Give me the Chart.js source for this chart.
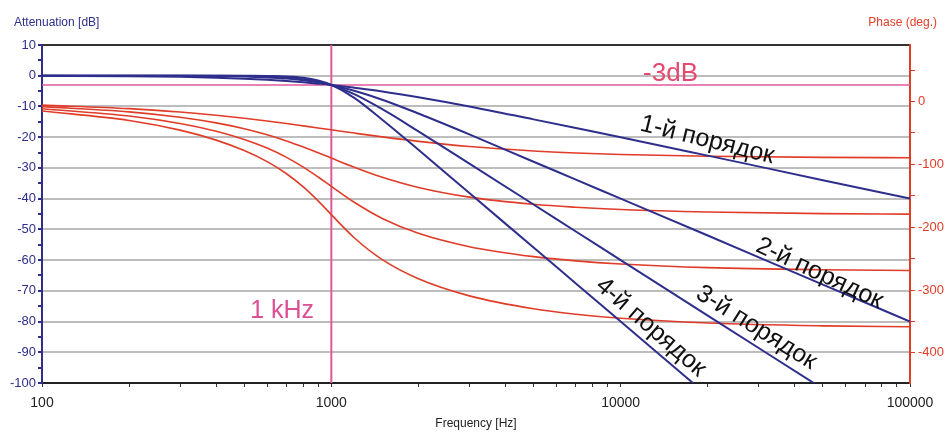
<!DOCTYPE html>
<html>
<head>
<meta charset="utf-8">
<script src="https://cdn.jsdelivr.net/npm/chart.js@4.4.1/dist/chart.umd.min.js"></script>
<style>
  body { margin: 0; background: #fff; }
  #wrap { position: relative; width: 945px; height: 434px; font-family: 'Liberation Sans', Arial, sans-serif; }
  .note { position: absolute; white-space: nowrap; transform-origin: 0 50%; line-height: 1; }
  .ttl { position: absolute; font-size: 12px; white-space: nowrap; }
</style>
</head>
<body>
<div id="wrap">
  <canvas id="grafik" width="945" height="434"></canvas>
  <div class="ttl" style="left:14px; top:15px; color:#2e2e8c;">Attenuation [dB]</div>
  <div class="ttl" style="right:8px; top:15px; color:#e03c28;">Phase (deg.)</div>
</div>
<script>
// frekuensi sampel (Hz)
const freqs = [100, 200, 300, 400, 500, 600, 700, 800, 900, 1000, 1200, 1500, 2000, 3000, 5000, 7000, 10000, 20000, 50000, 100000];

// redaman (dB), orde 1..4
const att1 = [-0.04, -0.17, -0.37, -0.64, -0.97, -1.34, -1.73, -2.15, -2.58, -3.0, -3.9, -5.1, -7.0, -10.0, -14.2, -17.0, -20.0, -26.0, -34.0, -40.0];
const att2 = [0, -0.01, -0.04, -0.11, -0.26, -0.54, -0.94, -1.5, -2.2, -3.0, -4.9, -7.8, -12.3, -19.1, -28.0, -33.8, -40.0, -52.0, -68.0, -80.0];
const att3 = [0, 0, 0, -0.02, -0.07, -0.2, -0.48, -1.0, -1.85, -3.0, -6.0, -10.9, -18.1, -28.6, -41.9, -50.7, -60.0, -78.1, -101.9, -120.0];
const att4 = [0, 0, 0, 0, -0.02, -0.07, -0.24, -0.67, -1.56, -3.0, -7.2, -14.3, -24.1, -38.2, -55.9, -67.6, -80.0, -104.1, -135.9, -160.0];

// fase (derajat), orde 1..4
const ph1 = [-5.7, -11.3, -16.7, -21.8, -26.6, -31.0, -35.0, -38.7, -42.0, -45.0, -50.2, -56.3, -63.4, -71.6, -78.7, -81.9, -84.3, -87.1, -88.9, -89.4];
const ph2 = [-8.1, -16.4, -25.0, -34.0, -43.3, -53.0, -62.7, -72.4, -81.5, -90.0, -104.5, -120.5, -136.7, -152.1, -163.6, -168.3, -171.9, -175.9, -178.4, -179.2];
const ph3 = [-11.5, -23.1, -35.0, -47.3, -60.3, -74.1, -88.9, -104.4, -120.1, -135.0, -160.3, -186.1, -209.7, -231.0, -246.9, -253.6, -258.5, -264.3, -267.7, -268.9];
const ph4 = [-15.0, -30.1, -45.5, -61.4, -78.0, -95.7, -114.9, -135.9, -158.1, -180.0, -216.8, -251.7, -282.1, -309.3, -329.9, -338.5, -345.0, -352.5, -357.0, -358.5];

// garis bantu
const cutoffFreq = 1000;
const cutoffDb = -3;

// tick
const dbTicks = [10, 5, 0, -5, -10, -15, -20, -25, -30, -35, -40, -45, -50, -55, -60, -65, -70, -75, -80, -85, -90, -95, -100];
const phaseTicks = [50, 0, -50, -100, -150, -200, -250, -300, -350, -400];
const freqTicks = [100, 200, 300, 400, 500, 600, 700, 800, 900, 1000, 2000, 3000, 4000, 5000, 6000, 7000, 8000, 9000, 10000, 20000, 30000, 40000, 50000, 60000, 70000, 80000, 90000, 100000];
const freqLabels = [100, 1000, 10000, 100000];

// teks keterangan
const noteTexts = ['1-й порядок', '2-й порядок', '3-й порядок', '4-й порядок'];
const noteFreqs = [11750, 29800, 18700, 8500];
const noteDb = [-15.0, -54.5, -69.6, -66.8];
const noteAngles = [14, 25, 32, 41];

const BIRU = '#2e2e8c';
const MERAH = '#e03c28';
const PINK = '#e0589c';
const FONT = "'Liberation Sans', Arial, sans-serif";

function titik(arr) {
  return freqs.map((f, i) => ({ x: f, y: arr[i] }));
}

function garisRedaman(arr) {
  return { data: titik(arr), yAxisID: 'y', borderColor: BIRU, borderWidth: 2, pointRadius: 0, cubicInterpolationMode: 'monotone', order: 1 };
}

function garisFase(arr) {
  return { data: titik(arr), yAxisID: 'y2', borderColor: MERAH, borderWidth: 1.6, pointRadius: 0, cubicInterpolationMode: 'monotone', order: 2 };
}

const chart = new Chart(document.getElementById('grafik'), {
  type: 'line',
  data: {
    datasets: [
      garisRedaman(att1), garisRedaman(att2), garisRedaman(att3), garisRedaman(att4),
      garisFase(ph1), garisFase(ph2), garisFase(ph3), garisFase(ph4),
      { data: [{ x: cutoffFreq, y: 10 }, { x: cutoffFreq, y: -100 }], yAxisID: 'y', borderColor: PINK, borderWidth: 2, pointRadius: 0, order: 3 },
      { data: [{ x: 100, y: cutoffDb }, { x: 100000, y: cutoffDb }], yAxisID: 'y', borderColor: PINK, borderWidth: 1.5, pointRadius: 0, order: 3 }
    ]
  },
  options: {
    responsive: false,
    animation: false,
    events: [],
    layout: { padding: { top: 45 } },
    plugins: { legend: { display: false }, tooltip: { enabled: false } },
    scales: {
      x: {
        type: 'logarithmic',
        min: 100,
        max: 100000,
        afterBuildTicks: s => { s.ticks = freqTicks.map(v => ({ value: v })); },
        afterFit: s => { s.height = 51; },
        ticks: {
          autoSkip: false, maxRotation: 0, padding: 8, color: '#222',
          font: { size: 14, family: FONT },
          callback: v => freqLabels.includes(v) ? String(v) : ''
        },
        grid: { drawOnChartArea: false, tickLength: 4, tickColor: '#333' },
        border: { color: '#222', width: 2 },
        title: { display: true, text: 'Frequency [Hz]', color: '#222', font: { size: 12, family: FONT }, padding: { top: 0, bottom: 3 } }
      },
      y: {
        position: 'left',
        min: -100,
        max: 10,
        afterBuildTicks: s => { s.ticks = dbTicks.map(v => ({ value: v })); },
        afterFit: s => { s.width = 42; },
        ticks: {
          autoSkip: false, padding: 2, color: BIRU,
          font: { size: 13, family: FONT },
          callback: v => v % 10 === 0 ? String(v) : ''
        },
        grid: {
          lineWidth: 2,
          tickLength: 4,
          tickColor: BIRU,
          color: ctx => {
            const v = ctx.tick ? ctx.tick.value : 0;
            if (v === 10 || v === -100) return '#333';
            if (v % 10 === 0) return '#bdbdbd';
            return 'rgba(0,0,0,0)';
          }
        },
        border: { color: BIRU, width: 2 }
      },
      y2: {
        position: 'right',
        min: -448,
        max: 90,
        afterBuildTicks: s => { s.ticks = phaseTicks.map(v => ({ value: v })); },
        afterFit: s => { s.width = 35; },
        ticks: {
          autoSkip: false, padding: 3, color: MERAH,
          font: { size: 13, family: FONT },
          callback: v => v % 100 === 0 ? String(v) : ''
        },
        grid: { drawOnChartArea: false, tickLength: 5, tickColor: MERAH },
        border: { color: MERAH, width: 2 }
      }
    }
  }
});

// letakkan teks keterangan pada koordinat data
const wrap = document.getElementById('wrap');
function tambahTeks(teks, f, db, sudut, ukuran, warna) {
  const el = document.createElement('div');
  el.className = 'note';
  el.textContent = teks;
  el.style.left = chart.scales.x.getPixelForValue(f) + 'px';
  el.style.top = chart.scales.y.getPixelForValue(db) + 'px';
  el.style.fontSize = ukuran + 'px';
  el.style.color = warna;
  el.style.transform = 'translateY(-50%) rotate(' + sudut + 'deg)';
  wrap.appendChild(el);
}

noteTexts.forEach((t, i) => tambahTeks(t, noteFreqs[i], noteDb[i], noteAngles[i], 25, '#111'));
tambahTeks('-3dB', 11950, 1.2, 0, 26, '#e54a6e');
tambahTeks('1 kHz', 524, -75.9, 0, 25, '#dd4f95');
</script>
</body>
</html>
